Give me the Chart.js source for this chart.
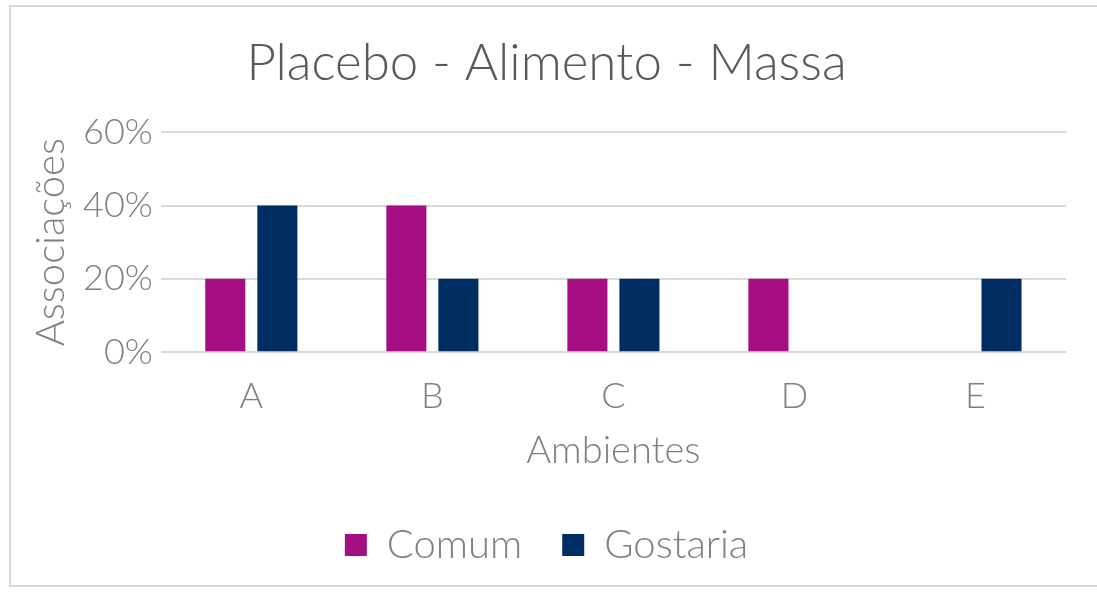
<!DOCTYPE html>
<html>
<head>
<meta charset="utf-8">
<script src="https://cdn.jsdelivr.net/npm/chart.js@4"></script>
<style>
html,body{margin:0;padding:0;background:#fff;}
#frame{position:absolute;left:9px;top:5px;width:1100px;height:582px;border:2px solid #d9d9d9;border-right:none;box-sizing:border-box;}
#wrap{position:absolute;left:11px;top:7px;width:1086px;height:578px;}
</style>
</head>
<body>
<div id="frame"></div>
<div id="wrap"><canvas id="c"></canvas></div>
<script>
const categories = ['A','B','C','D','E'];
const comum = [0.2, 0.4, 0.2, 0.2, 0];
const gostaria = [0.4, 0.2, 0.2, 0, 0.2];
const yTicks = [0, 0.2, 0.4, 0.6];
const FONT = 'Lato, "DejaVu Sans", sans-serif';
const GRAY = '#7f7f7f';
new Chart(document.getElementById('c'), {
  type: 'bar',
  data: {
    labels: categories,
    datasets: [
      {label: 'Comum', data: comum, backgroundColor: '#A50E82', categoryPercentage: 0.575, barPercentage: 0.77},
      {label: 'Gostaria', data: gostaria, backgroundColor: '#002D62', categoryPercentage: 0.575, barPercentage: 0.77}
    ]
  },
  options: {
    responsive: true,
    maintainAspectRatio: false,
    animation: false,
    layout: {padding: {left: 16, right: 31, top: 26, bottom: 10}},
    plugins: {
      title: {display: true, text: 'Placebo - Alimento - Massa', color: '#595959', font: {family: FONT, size: 51, weight: 300}, padding: {top: 0, bottom: 38}},
      legend: {position: 'bottom', labels: {color: GRAY, font: {family: FONT, size: 40, weight: 300}, boxWidth: 22, boxHeight: 22, padding: 40}},
      tooltip: {enabled: false}
    },
    scales: {
      x: {
        grid: {display: false},
        border: {display: false},
        ticks: {color: GRAY, font: {family: FONT, size: 36, weight: 300}, padding: 14.5},
        title: {display: true, text: 'Ambientes', color: GRAY, font: {family: FONT, size: 38, weight: 300}, padding: {top: -4, bottom: 11}}
      },
      y: {
        min: 0, max: 0.6,
        afterBuildTicks: (axis) => { axis.ticks = yTicks.map(v => ({value: v})); },
        grid: {color: '#d9d9d9', lineWidth: 2, drawTicks: false},
        border: {display: false},
        ticks: {color: GRAY, font: {family: FONT, size: 36, weight: 300}, padding: 8, callback: v => Math.round(v*100) + '%'},
        title: {display: true, text: 'Associações', color: GRAY, font: {family: FONT, size: 40, weight: 300}, padding: {top: 0, bottom: 0}}
      }
    }
  }
});
</script>
</body>
</html>
